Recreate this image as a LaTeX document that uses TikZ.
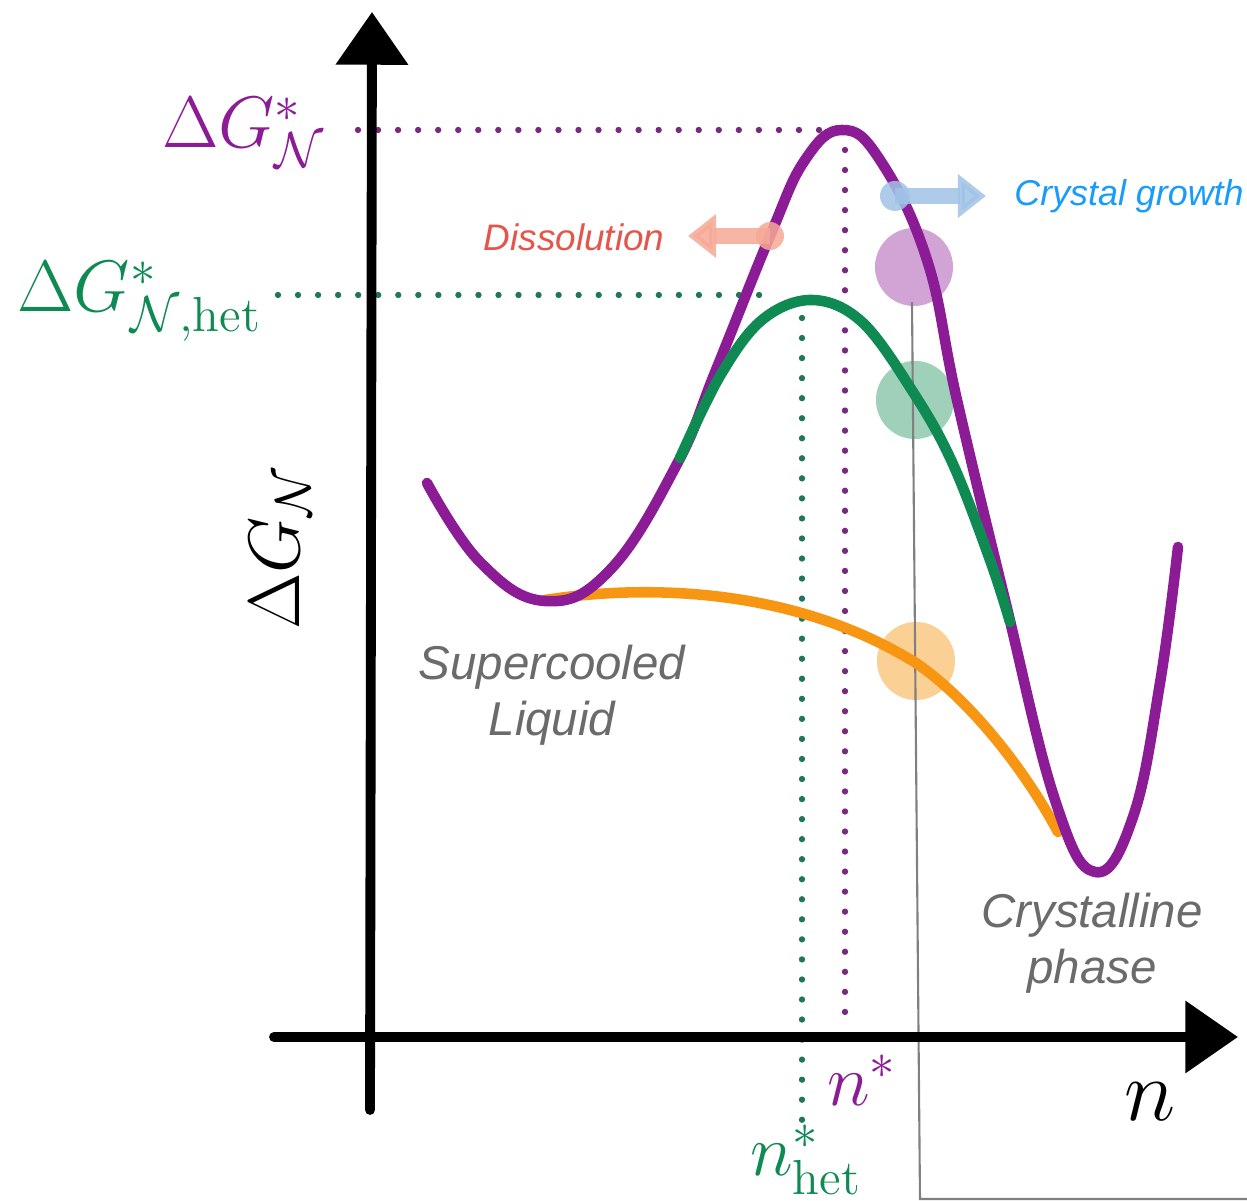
\documentclass[tikz,border=0pt]{standalone}
\usepackage{tikz}
\usetikzlibrary{arrows.meta}
\usepackage{amsmath}
\usepackage{fontspec}
\newfontfamily\notefont{Liberation Sans}
\definecolor{homcol}{RGB}{140,28,150}
\definecolor{hetcol}{RGB}{14,138,82}
\definecolor{spincol}{RGB}{246,150,18}
\definecolor{homdot}{RGB}{120,40,125}
\definecolor{hetdot}{RGB}{30,120,85}
\definecolor{growcol}{RGB}{25,155,250}
\definecolor{growarrow}{RGB}{160,195,230}
\definecolor{dissolcol}{RGB}{228,85,75}
\definecolor{dissolarrow}{RGB}{246,168,150}

\begin{document}
\begin{tikzpicture}[
        x=0.01cm, y=-0.01cm,
        axis/.style={line width=2.8pt, black, line cap=round,
            -{Triangle[length=15pt, width=20pt]}},
        curve/.style={line width=3pt, line cap=round},
        guide/.style={line width=1.8pt, line cap=round,
            dash pattern=on 0pt off 5.7pt},
        blob/.style={circle, inner sep=0pt, minimum size=0.78cm},
        note/.style={font=\notefont\itshape\fontsize{13.5}{16}\selectfont,
            text=black!58, align=center},
        tag/.style={font=\fontsize{20}{24}\selectfont},
        move/.style={line width=4.4pt, opacity=0.85,
            -{Triangle[length=8pt, width=12pt]}}
    ]
    \useasboundingbox (0,0) rectangle (1247,1201);

    % Axes points
    \coordinate (origin) at (370,1037);
    \coordinate (ybot) at (370,1110);
    \coordinate (ytip) at (372,12);
    \coordinate (xleft) at (274,1037);
    \coordinate (xtip) at (1238,1037);

    % Guide lines
    \draw[guide, homdot] (358,130) -- (830,130);
    \draw[guide, homdot] (845,150) -- (845,1030);
    \draw[guide, hetdot] (278,295) -- (760,295);
    \draw[guide, hetdot] (802,318) -- (802,1136);

    % Markers on the curves
    \node[blob, fill=homcol!40] (crit) at (914,267) {};
    \node[blob, fill=hetcol!40] (crithet) at (915,400) {};
    \node[blob, fill=spincol!45] (critspin) at (916,661) {};

    % Thin line
    \draw[black!50, line width=0.6pt] (912,302) -- (920,1199) -- (1247,1199);

    % Curves
    \draw[curve, spincol] (545,600) .. controls (640,585) and (790,585)
        .. (916,663) .. controls (970,700) and (1025,770) .. (1058,832);
    \draw[curve, homcol] plot[smooth, tension=0.7] coordinates {
        (427,483) (480,562) (545,601) (610,570) (677,464) (716,370)
        (770,236) (805,160) (842,130) (880,160) (927,260) (957,400)
        (1005,600) (1055,800) (1095,872) (1133,817) (1160,683) (1178,547)};
    \draw[curve, hetcol] plot[smooth, tension=0.6] coordinates {
        (680,458) (720,376) (762,320) (812,300) (862,322) (913,392)
        (952,462) (990,560) (1010,622)};

    % Axes
    \draw[axis] (ybot) -- (ytip);
    \draw[axis] (xleft) -- (xtip);

    % Moves
    \fill[dissolarrow, opacity=0.85] (770,236) circle (14);
    \draw[move, dissolarrow] (770,236) -- (688,236);
    \fill[growarrow, opacity=0.85] (895,196) circle (15);
    \draw[move, growarrow] (895,196) -- (986,196);

    % Labels
    \node[tag, text=homcol, anchor=base east] (dg) at (338,148)
        {$\Delta G^{*}_{\mathcal{N}}$};
    \node[tag, text=hetcol, anchor=base east] (dghet) at (274,312)
        {$\Delta G^{*}_{\mathcal{N},\mathrm{het}}$};
    \node[tag, rotate=90] (dgaxis) at (280,548) {$\Delta G_{\mathcal{N}}$};
    \node[font=\fontsize{27}{30}\selectfont] (naxis) at (1150,1102) {$n$};
    \node[tag, text=homcol] (nstar) at (862,1080) {$n^{*}$};
    \node[tag, text=hetcol] (nhet) at (806,1160) {$n^{*}_{\mathrm{het}}$};

    \node[note] (liquid) at (552,695) {Supercooled\\Liquid};
    \node[note] (crystal) at (1092,943) {Crystalline\\phase};
    \node[font=\notefont\itshape\fontsize{10.5}{12}\selectfont,
        text=dissolcol] (dissol) at (574,237) {Dissolution};
    \node[font=\notefont\itshape\fontsize{10.2}{12}\selectfont,
        text=growcol, anchor=west] (grow) at (1002,196) {Crystal growth};

\end{tikzpicture}
\end{document}
